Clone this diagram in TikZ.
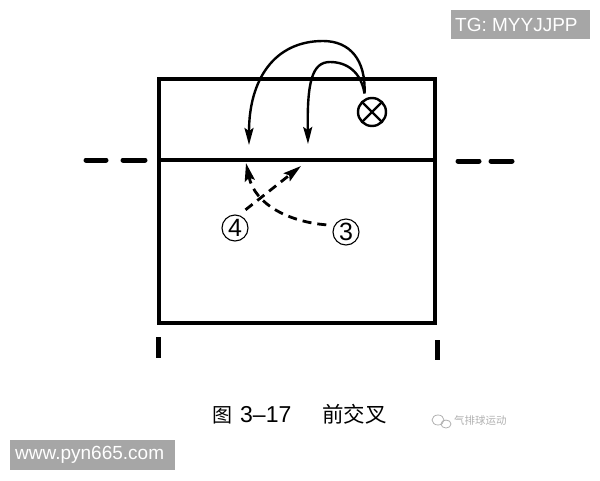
\documentclass[tikz,border=0pt]{standalone}
\usepackage{fontspec}
\setmainfont{Liberation Sans}
\newfontfamily\cjk{Noto Sans CJK SC}
\usetikzlibrary{arrows.meta}
\definecolor{wmgray}{HTML}{A6A6A6}
\definecolor{logogray}{HTML}{B0B0B0}
\begin{document}
\begin{tikzpicture}[x=1pt,y=-1pt,
  court/.style={line width=3.8pt},
  sidedash/.style={line width=5pt,line cap=round},
  tick/.style={line width=5pt},
  runarrow/.style={line width=2.4pt,-{Stealth[length=17pt,width=9pt,inset=3pt]}},
  passarrow/.style={line width=2.8pt,dash pattern=on 9pt off 6pt,-{Stealth[length=18pt,width=10pt,inset=3pt]}},
  player/.style={circle,draw,line width=1.1pt,minimum size=26pt,inner sep=0pt,outer sep=8pt,font=\fontsize{25}{25}\selectfont},
  wmbox/.style={fill=wmgray,text=white,inner sep=0pt,font=\fontsize{19}{19}\selectfont}
]
\useasboundingbox (0,0) rectangle (600,480);
% court
\draw[court] (159,79) rectangle (435,323);
\draw[court] (159,160) -- (435,160);
\draw[sidedash] (86,160) -- (106,160);
\draw[sidedash] (123,160) -- (145,160);
\draw[sidedash] (458,161) -- (479,161);
\draw[sidedash] (491,161) -- (512,161);
\draw[tick] (158,337) -- (158,358);
\draw[tick] (437,340) -- (437,360);
% server marker
\node[circle,draw,line width=2.4pt,minimum size=28pt,inner sep=0pt,outer sep=6pt,
  path picture={\draw[line width=2.2pt] (path picture bounding box.south west) -- (path picture bounding box.north east)
                 (path picture bounding box.north west) -- (path picture bounding box.south east);}] (bx) at (372,112) {};
% tips
\coordinate (t1) at (249,145);
\coordinate (t2) at (308,144);
\coordinate (t3) at (301,166);
\coordinate (t4) at (246,163);
% players
\node[player] (n4) at (235,228) {4};
\node[player] (n3) at (346,232) {3};
% runs
\draw[runarrow] (bx.112) .. controls (366,60) and (350,41) .. (323,41) .. controls (274,41) and (249,80) .. (t1);
\draw[runarrow] (bx.112) .. controls (361,72) and (347,62) .. (330,62) .. controls (312,62) and (307,82) .. (t2);
% passes / movements
\draw[passarrow] (n4.60) -- (t3);
\draw[passarrow] (n3.160) .. controls (290,222) and (255,205) .. (t4);
% caption
\node[anchor=base west,inner sep=0pt,font=\cjk\fontsize{20}{20}\selectfont] (cfig) at (212,422) {图};
\node[anchor=base west,inner sep=0pt,font=\fontsize{23}{23}\selectfont] (cnum) at (240,422) {3–17};
\node[anchor=base west,inner sep=0pt,font=\cjk\fontsize{21.5}{21.5}\selectfont] (ctitle) at (322,422) {前交叉};
% logo
\draw[logogray,line width=0.8pt] (438,420) ellipse (6pt and 5pt);
\draw[logogray,line width=0.8pt] (446,424) ellipse (5pt and 4pt);
\node[anchor=west,inner sep=0pt,text=logogray,font=\cjk\fontsize{10.5}{10.5}\selectfont] (logo) at (454,421) {气排球运动};
% watermarks
\fill[wmgray] (451,10) rectangle (590,39);
\node[anchor=west,inner sep=0pt,text=white,font=\fontsize{19}{19}\selectfont] (tg) at (455,25) {TG: MYYJJPP};
\fill[wmgray] (10,440) rectangle (175,470);
\node[anchor=west,inner sep=0pt,text=white,font=\fontsize{19}{19}\selectfont] (www) at (15,455) {www.pyn665.com};
\end{tikzpicture}
\end{document}
